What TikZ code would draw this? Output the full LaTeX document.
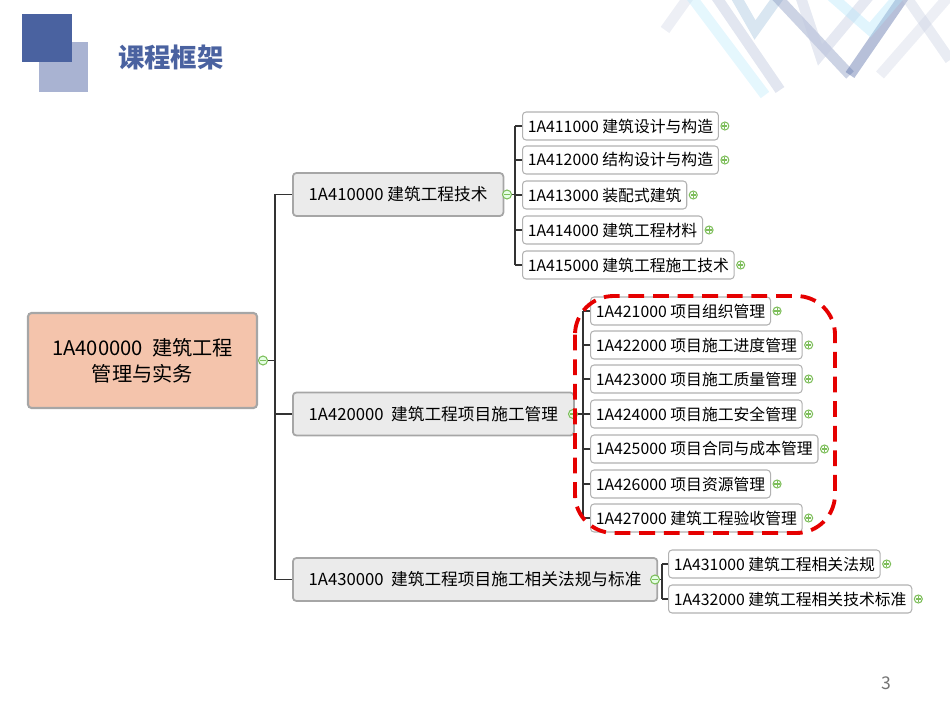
\documentclass[tikz,border=0pt]{standalone}
\usepackage{fontspec}
\setmainfont{Noto Sans CJK SC}
\usetikzlibrary{positioning}
\definecolor{hdr}{HTML}{4A62A0}
\definecolor{hdrl}{HTML}{A9B3D2}
\definecolor{rootf}{HTML}{F4C4AC}
\definecolor{grn}{HTML}{7DBE5A}
\tikzset{
 px/.style={x=0.02cm,y=-0.02cm},
 l1/.style={draw=black!35,line width=1pt,fill=black!8,rounded corners=2pt,minimum height=0.86cm,inner xsep=9pt,font=\fontsize{9.5}{11}\selectfont,anchor=west},
 l2/.style={draw=black!30,line width=0.6pt,fill=white,rounded corners=2pt,minimum height=0.56cm,inner xsep=3pt,font=\fontsize{9.0}{10}\selectfont,anchor=west},
 con/.style={line width=0.6pt,black!80},
 minus/.pic={\draw[grn,fill=green!10,line width=0.6pt](0,0)circle(4.5);\draw[grn,line width=0.6pt](-3,0)--(3,0);},
 plus/.pic={\draw[grn,fill=white,line width=0.6pt](0,0)circle(4);\draw[grn,line width=0.6pt](-2.6,0)--(2.6,0)(0,-2.6)--(0,2.6);},
}
\begin{document}
\begin{tikzpicture}[px]
\useasboundingbox (0,0) rectangle (950,713);
% decoration
\begin{scope}[line width=6pt,opacity=0.4]
\draw[hdr!25] (665,30)--(690,-5);
\draw[cyan!25] (690,-5)--(765,95);
\draw[hdr!40] (715,-5)--(780,90);
\draw[cyan!40!hdr!50] (735,-5)--(755,30)--(780,-5);
\draw[hdr!70] (775,-5)--(850,75);
\draw[hdr!35] (800,-5)--(820,55)--(870,-5);
\draw[hdr] (850,75)--(905,-5);
\draw[cyan!30] (830,-5)--(870,30)--(900,-5);
\draw[hdr!25] (880,75)--(950,-5);
\draw[hdr!30] (905,-5)--(950,60);
\end{scope}
\fill[hdrl] (39,42) rectangle (88,92);
\fill[hdr] (22,14) rectangle (72,62);
\node[anchor=west,text=hdr,font=\fontsize{15}{18}\selectfont\bfseries] (title) at (112,57) {课程框架};
% root
\node[draw=black!35,line width=1.2pt,fill=rootf,rounded corners=2pt,minimum width=4.58cm,minimum height=1.9cm,align=center,font=\fontsize{11.5}{15}\selectfont] (root) at (142.5,360.5) {1A400000\ \ 建筑工程\\管理与实务};
% level 1
\node[l1,minimum width=4.16cm] (a) at (292,194.5) {1A410000 建筑工程技术};
\node[l1,minimum width=5.5cm] (b) at (292,414) {1A420000\ \ 建筑工程项目施工管理};
\node[l1,minimum width=7.12cm] (c) at (292,579.5) {1A430000\ \ 建筑工程项目施工相关法规与标准};
\draw[con] (root.east)--(275,360.5);
\draw[con] (a.west)-|(275,360.5);
\draw[con] (c.west)-|(275,360.5);
\draw[con] (b.west)--(275,414);
% A children
\foreach \n/\y/\t in {a1/126/1A411000 建筑设计与构造,a2/160/1A412000 结构设计与构造,a3/195/1A413000 装配式建筑,a4/230/1A414000 建筑工程材料,a5/265/1A415000 建筑工程施工技术}{
 \node[l2] (\n) at (522,\y) {\t};
 \draw[con] (\n.west)--(515,\y);
 \path (\n.east) ++(6,0) pic {plus};
}
\draw[con] (a.east)--(515,194.5);
\draw[con] (515,126)--(515,265);
% B children
\foreach \n/\y/\t in {b1/311/1A421000 项目组织管理,b2/345/1A422000 项目施工进度管理,b3/379/1A423000 项目施工质量管理,b4/414/1A424000 项目施工安全管理,b5/449/1A425000 项目合同与成本管理,b6/484/1A426000 项目资源管理,b7/518/1A427000 建筑工程验收管理}{
 \node[l2] (\n) at (590,\y) {\t};
 \draw[con] (\n.west)--(583,\y);
 \path (\n.east) ++(6,0) pic {plus};
}
\draw[con] (b.east)--(583,414);
\draw[con] (583,311)--(583,518);
% C children
\foreach \n/\y/\t in {c1/564/1A431000 建筑工程相关法规,c2/599/1A432000 建筑工程相关技术标准}{
 \node[l2] (\n) at (668,\y) {\t};
 \draw[con] (\n.west)--(662,\y);
 \path (\n.east) ++(6,0) pic {plus};
}
\draw[con] (c.east)--(662,579.5);
\draw[con] (662,564)--(662,599);
\pic at (263,360.5) {minus};
\pic at (507,194.5) {minus};
\pic at (573,414) {minus};
\pic at (655,579.5) {minus};
% red dashed frame
\draw[red!90!black,line width=2.2pt,dash pattern=on 9pt off 5pt,rounded corners=22pt] (575,296) rectangle (835,533);
\node[text=black!55,font=\fontsize{10}{12}\selectfont] (pg) at (886,683) {3};
\end{tikzpicture}
\end{document}
